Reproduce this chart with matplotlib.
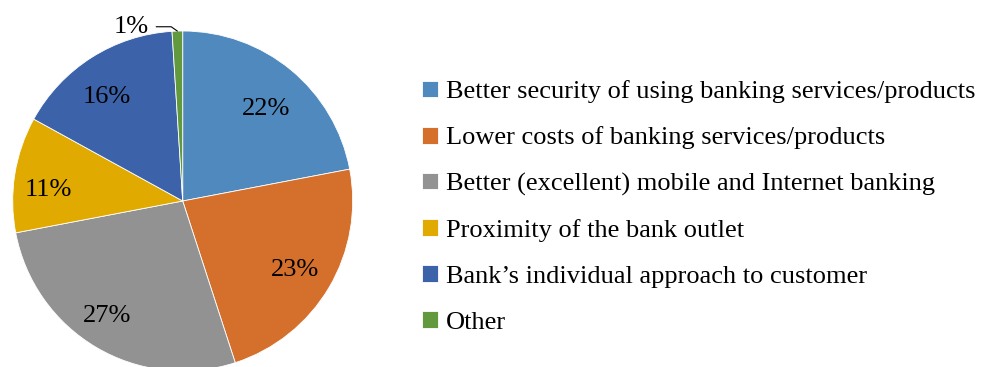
import numpy as np
import matplotlib
matplotlib.use("Agg")
import matplotlib.pyplot as plt

plt.rcParams['font.family'] = ['Liberation Serif', 'DejaVu Serif']

# 各类原因所占比例
categories = ['Better security of using banking services/products',
              'Lower costs of banking services/products',
              'Better (excellent) mobile and Internet banking',
              'Proximity of the bank outlet',
              'Bank\u2019s individual approach to customer',
              'Other']
shares = [22, 23, 27, 11, 16, 1]
colors = ['#4F89BD', '#D4702C', '#929292', '#E1AA00', '#3C63AA', '#62993E']
# 标签位置微调：半径比例和角度偏移（度）
label_r = [0.742, 0.765, 0.796, 0.795, 0.77, 0.77]
label_da = [-1.5, 0.3, -3.3, 3.2, 2.8, 0]

fs = 19
fig = plt.figure(figsize=(9.82, 3.67), dpi=100)
W, H = 982, 367
cx, cy, R = 182.7, 201, 170
ax = fig.add_axes([(cx - R) / W, (H - cy - R) / H, 2 * R / W, 2 * R / H])

wedges, texts, autotexts = ax.pie(
    shares, colors=colors, startangle=90, counterclock=False,
    autopct=lambda p: '%d%%' % round(p), pctdistance=0.77,
    wedgeprops=dict(edgecolor='white', linewidth=0.6),
    textprops=dict(fontsize=fs, color='black'))
ax.set_xlim(-1, 1)
ax.set_ylim(-1, 1)

for w, t, r, da in zip(wedges, autotexts, label_r, label_da):
    a = np.deg2rad((w.theta1 + w.theta2) / 2 + da)
    t.set_position((r * np.cos(a), r * np.sin(a) - 0.018))

# 1% 太小，放到外面用引线标注
small = autotexts[-1]
small.set_visible(False)
w = wedges[-1]
mid = np.deg2rad((w.theta1 + w.theta2) / 2)
ax.annotate(small.get_text(), xy=(np.cos(mid), np.sin(mid)),
            xytext=(-0.30, 1.025), ha='center', va='center', fontsize=fs,
            annotation_clip=False,
            arrowprops=dict(arrowstyle='-', color='black', lw=0.8,
                            shrinkA=3, shrinkB=0,
                            connectionstyle='angle,angleA=0,angleB=-35,rad=0'))

fig.legend(wedges, categories, loc='center left',
           bbox_to_anchor=(422 / W, (H - 207) / H), frameon=False,
           fontsize=fs, handlelength=0.6, handleheight=0.6,
           handletextpad=0.3, labelspacing=0.88, borderpad=0, borderaxespad=0)

fig.savefig('out.png', dpi=100)
